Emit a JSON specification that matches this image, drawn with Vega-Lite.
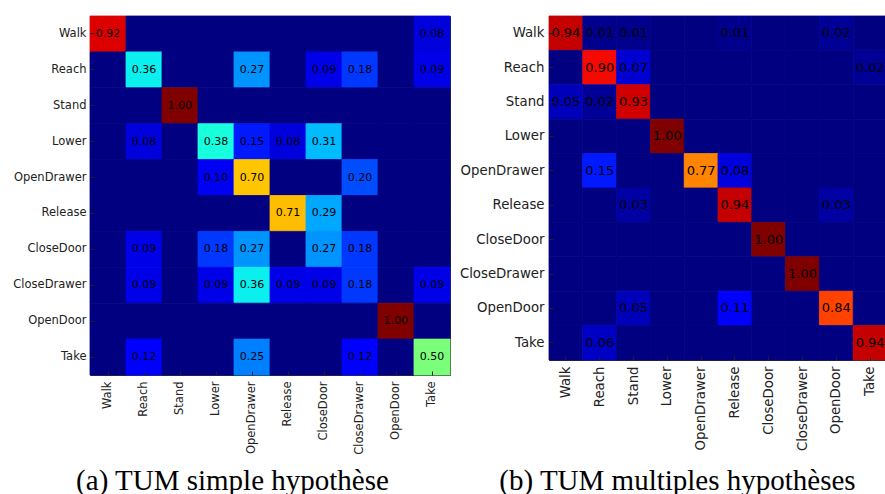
{
  "$schema": "https://vega.github.io/schema/vega-lite/v6.json",
  "padding": {"left": 12, "top": 15, "right": 0, "bottom": 0},
  "background": "white",
  "spacing": 7,
  "datasets": {
    "a": [
      {"r":"Walk","c":"Walk","v":0.92},{"r":"Walk","c":"Reach","v":0},{"r":"Walk","c":"Stand","v":0},{"r":"Walk","c":"Lower","v":0},{"r":"Walk","c":"OpenDrawer","v":0},{"r":"Walk","c":"Release","v":0},{"r":"Walk","c":"CloseDoor","v":0},{"r":"Walk","c":"CloseDrawer","v":0},{"r":"Walk","c":"OpenDoor","v":0},{"r":"Walk","c":"Take","v":0.08},
      {"r":"Reach","c":"Walk","v":0},{"r":"Reach","c":"Reach","v":0.36},{"r":"Reach","c":"Stand","v":0},{"r":"Reach","c":"Lower","v":0},{"r":"Reach","c":"OpenDrawer","v":0.27},{"r":"Reach","c":"Release","v":0},{"r":"Reach","c":"CloseDoor","v":0.09},{"r":"Reach","c":"CloseDrawer","v":0.18},{"r":"Reach","c":"OpenDoor","v":0},{"r":"Reach","c":"Take","v":0.09},
      {"r":"Stand","c":"Walk","v":0},{"r":"Stand","c":"Reach","v":0},{"r":"Stand","c":"Stand","v":1.0},{"r":"Stand","c":"Lower","v":0},{"r":"Stand","c":"OpenDrawer","v":0},{"r":"Stand","c":"Release","v":0},{"r":"Stand","c":"CloseDoor","v":0},{"r":"Stand","c":"CloseDrawer","v":0},{"r":"Stand","c":"OpenDoor","v":0},{"r":"Stand","c":"Take","v":0},
      {"r":"Lower","c":"Walk","v":0},{"r":"Lower","c":"Reach","v":0.08},{"r":"Lower","c":"Stand","v":0},{"r":"Lower","c":"Lower","v":0.38},{"r":"Lower","c":"OpenDrawer","v":0.15},{"r":"Lower","c":"Release","v":0.08},{"r":"Lower","c":"CloseDoor","v":0.31},{"r":"Lower","c":"CloseDrawer","v":0},{"r":"Lower","c":"OpenDoor","v":0},{"r":"Lower","c":"Take","v":0},
      {"r":"OpenDrawer","c":"Walk","v":0},{"r":"OpenDrawer","c":"Reach","v":0},{"r":"OpenDrawer","c":"Stand","v":0},{"r":"OpenDrawer","c":"Lower","v":0.10},{"r":"OpenDrawer","c":"OpenDrawer","v":0.70},{"r":"OpenDrawer","c":"Release","v":0},{"r":"OpenDrawer","c":"CloseDoor","v":0},{"r":"OpenDrawer","c":"CloseDrawer","v":0.20},{"r":"OpenDrawer","c":"OpenDoor","v":0},{"r":"OpenDrawer","c":"Take","v":0},
      {"r":"Release","c":"Walk","v":0},{"r":"Release","c":"Reach","v":0},{"r":"Release","c":"Stand","v":0},{"r":"Release","c":"Lower","v":0},{"r":"Release","c":"OpenDrawer","v":0},{"r":"Release","c":"Release","v":0.71},{"r":"Release","c":"CloseDoor","v":0.29},{"r":"Release","c":"CloseDrawer","v":0},{"r":"Release","c":"OpenDoor","v":0},{"r":"Release","c":"Take","v":0},
      {"r":"CloseDoor","c":"Walk","v":0},{"r":"CloseDoor","c":"Reach","v":0.09},{"r":"CloseDoor","c":"Stand","v":0},{"r":"CloseDoor","c":"Lower","v":0.18},{"r":"CloseDoor","c":"OpenDrawer","v":0.27},{"r":"CloseDoor","c":"Release","v":0},{"r":"CloseDoor","c":"CloseDoor","v":0.27},{"r":"CloseDoor","c":"CloseDrawer","v":0.18},{"r":"CloseDoor","c":"OpenDoor","v":0},{"r":"CloseDoor","c":"Take","v":0},
      {"r":"CloseDrawer","c":"Walk","v":0},{"r":"CloseDrawer","c":"Reach","v":0.09},{"r":"CloseDrawer","c":"Stand","v":0},{"r":"CloseDrawer","c":"Lower","v":0.09},{"r":"CloseDrawer","c":"OpenDrawer","v":0.36},{"r":"CloseDrawer","c":"Release","v":0.09},{"r":"CloseDrawer","c":"CloseDoor","v":0.09},{"r":"CloseDrawer","c":"CloseDrawer","v":0.18},{"r":"CloseDrawer","c":"OpenDoor","v":0},{"r":"CloseDrawer","c":"Take","v":0.09},
      {"r":"OpenDoor","c":"Walk","v":0},{"r":"OpenDoor","c":"Reach","v":0},{"r":"OpenDoor","c":"Stand","v":0},{"r":"OpenDoor","c":"Lower","v":0},{"r":"OpenDoor","c":"OpenDrawer","v":0},{"r":"OpenDoor","c":"Release","v":0},{"r":"OpenDoor","c":"CloseDoor","v":0},{"r":"OpenDoor","c":"CloseDrawer","v":0},{"r":"OpenDoor","c":"OpenDoor","v":1.0},{"r":"OpenDoor","c":"Take","v":0},
      {"r":"Take","c":"Walk","v":0},{"r":"Take","c":"Reach","v":0.12},{"r":"Take","c":"Stand","v":0},{"r":"Take","c":"Lower","v":0},{"r":"Take","c":"OpenDrawer","v":0.25},{"r":"Take","c":"Release","v":0},{"r":"Take","c":"CloseDoor","v":0},{"r":"Take","c":"CloseDrawer","v":0.12},{"r":"Take","c":"OpenDoor","v":0},{"r":"Take","c":"Take","v":0.50}
    ],
    "b": [
      {"r":"Walk","c":"Walk","v":0.94},{"r":"Walk","c":"Reach","v":0.01},{"r":"Walk","c":"Stand","v":0.01},{"r":"Walk","c":"Lower","v":0},{"r":"Walk","c":"OpenDrawer","v":0},{"r":"Walk","c":"Release","v":0.01},{"r":"Walk","c":"CloseDoor","v":0},{"r":"Walk","c":"CloseDrawer","v":0},{"r":"Walk","c":"OpenDoor","v":0.02},{"r":"Walk","c":"Take","v":0},
      {"r":"Reach","c":"Walk","v":0},{"r":"Reach","c":"Reach","v":0.90},{"r":"Reach","c":"Stand","v":0.07},{"r":"Reach","c":"Lower","v":0},{"r":"Reach","c":"OpenDrawer","v":0},{"r":"Reach","c":"Release","v":0},{"r":"Reach","c":"CloseDoor","v":0},{"r":"Reach","c":"CloseDrawer","v":0},{"r":"Reach","c":"OpenDoor","v":0},{"r":"Reach","c":"Take","v":0.02},
      {"r":"Stand","c":"Walk","v":0.05},{"r":"Stand","c":"Reach","v":0.02},{"r":"Stand","c":"Stand","v":0.93},{"r":"Stand","c":"Lower","v":0},{"r":"Stand","c":"OpenDrawer","v":0},{"r":"Stand","c":"Release","v":0},{"r":"Stand","c":"CloseDoor","v":0},{"r":"Stand","c":"CloseDrawer","v":0},{"r":"Stand","c":"OpenDoor","v":0},{"r":"Stand","c":"Take","v":0},
      {"r":"Lower","c":"Walk","v":0},{"r":"Lower","c":"Reach","v":0},{"r":"Lower","c":"Stand","v":0},{"r":"Lower","c":"Lower","v":1.0},{"r":"Lower","c":"OpenDrawer","v":0},{"r":"Lower","c":"Release","v":0},{"r":"Lower","c":"CloseDoor","v":0},{"r":"Lower","c":"CloseDrawer","v":0},{"r":"Lower","c":"OpenDoor","v":0},{"r":"Lower","c":"Take","v":0},
      {"r":"OpenDrawer","c":"Walk","v":0},{"r":"OpenDrawer","c":"Reach","v":0.15},{"r":"OpenDrawer","c":"Stand","v":0},{"r":"OpenDrawer","c":"Lower","v":0},{"r":"OpenDrawer","c":"OpenDrawer","v":0.77},{"r":"OpenDrawer","c":"Release","v":0.08},{"r":"OpenDrawer","c":"CloseDoor","v":0},{"r":"OpenDrawer","c":"CloseDrawer","v":0},{"r":"OpenDrawer","c":"OpenDoor","v":0},{"r":"OpenDrawer","c":"Take","v":0},
      {"r":"Release","c":"Walk","v":0},{"r":"Release","c":"Reach","v":0},{"r":"Release","c":"Stand","v":0.03},{"r":"Release","c":"Lower","v":0},{"r":"Release","c":"OpenDrawer","v":0},{"r":"Release","c":"Release","v":0.94},{"r":"Release","c":"CloseDoor","v":0},{"r":"Release","c":"CloseDrawer","v":0},{"r":"Release","c":"OpenDoor","v":0.03},{"r":"Release","c":"Take","v":0},
      {"r":"CloseDoor","c":"Walk","v":0},{"r":"CloseDoor","c":"Reach","v":0},{"r":"CloseDoor","c":"Stand","v":0},{"r":"CloseDoor","c":"Lower","v":0},{"r":"CloseDoor","c":"OpenDrawer","v":0},{"r":"CloseDoor","c":"Release","v":0},{"r":"CloseDoor","c":"CloseDoor","v":1.0},{"r":"CloseDoor","c":"CloseDrawer","v":0},{"r":"CloseDoor","c":"OpenDoor","v":0},{"r":"CloseDoor","c":"Take","v":0},
      {"r":"CloseDrawer","c":"Walk","v":0},{"r":"CloseDrawer","c":"Reach","v":0},{"r":"CloseDrawer","c":"Stand","v":0},{"r":"CloseDrawer","c":"Lower","v":0},{"r":"CloseDrawer","c":"OpenDrawer","v":0},{"r":"CloseDrawer","c":"Release","v":0},{"r":"CloseDrawer","c":"CloseDoor","v":0},{"r":"CloseDrawer","c":"CloseDrawer","v":1.0},{"r":"CloseDrawer","c":"OpenDoor","v":0},{"r":"CloseDrawer","c":"Take","v":0},
      {"r":"OpenDoor","c":"Walk","v":0},{"r":"OpenDoor","c":"Reach","v":0},{"r":"OpenDoor","c":"Stand","v":0.05},{"r":"OpenDoor","c":"Lower","v":0},{"r":"OpenDoor","c":"OpenDrawer","v":0},{"r":"OpenDoor","c":"Release","v":0.11},{"r":"OpenDoor","c":"CloseDoor","v":0},{"r":"OpenDoor","c":"CloseDrawer","v":0},{"r":"OpenDoor","c":"OpenDoor","v":0.84},{"r":"OpenDoor","c":"Take","v":0},
      {"r":"Take","c":"Walk","v":0},{"r":"Take","c":"Reach","v":0.06},{"r":"Take","c":"Stand","v":0},{"r":"Take","c":"Lower","v":0},{"r":"Take","c":"OpenDrawer","v":0},{"r":"Take","c":"Release","v":0},{"r":"Take","c":"CloseDoor","v":0},{"r":"Take","c":"CloseDrawer","v":0},{"r":"Take","c":"OpenDoor","v":0},{"r":"Take","c":"Take","v":0.94}
    ]
  },
  "hconcat": [
    {
      "width": 360,
      "height": 359,
      "data": {"name": "a"},
      "layer": [
        {
          "mark": {"type": "rect", "strokeWidth": 0.8},
          "encoding": {
            "x": {"field": "c", "type": "nominal",
              "scale": {"domain": ["Walk","Reach","Stand","Lower","OpenDrawer","Release","CloseDoor","CloseDrawer","OpenDoor","Take"], "paddingInner": 0, "paddingOuter": 0},
              "axis": {"orient": "bottom", "labelAngle": -90, "labelFontSize": 11.5, "labelPadding": 10,
                "title": "(a) TUM simple hypothèse", "titleFont": "Liberation Serif", "titleFontSize": 29, "titleFontWeight": "normal", "titleColor": "#000",
                "titleX": 142, "titleY": 114, "titleAlign": "center", "titleBaseline": "alphabetic"}},
            "y": {"field": "r", "type": "nominal",
              "scale": {"domain": ["Walk","Reach","Stand","Lower","OpenDrawer","Release","CloseDoor","CloseDrawer","OpenDoor","Take"], "paddingInner": 0, "paddingOuter": 0},
              "axis": {"orient": "left", "labelFontSize": 11.5, "labelPadding": 8, "title": null, "minExtent": 77, "maxExtent": 77}},
            "color": {"field": "v", "type": "quantitative", "legend": null,
              "scale": {"domain": [0, 0.11, 0.125, 0.34, 0.375, 0.64, 0.66, 0.89, 0.91, 1],
                "range": ["#000080", "#0000ff", "#0000ff", "#00dbff", "#14ffe2", "#eeff08", "#ffec00", "#ff1300", "#e80000", "#800000"],
                "interpolate": "rgb"}},
            "stroke": {"field": "v", "type": "quantitative", "legend": null,
              "scale": {"domain": [0, 0.11, 0.125, 0.34, 0.375, 0.64, 0.66, 0.89, 0.91, 1],
                "range": ["#000080", "#0000ff", "#0000ff", "#00dbff", "#14ffe2", "#eeff08", "#ffec00", "#ff1300", "#e80000", "#800000"],
                "interpolate": "rgb"}}
          }
        },
        {
          "transform": [{"filter": "datum.v > 0"}],
          "mark": {"type": "text", "fontSize": 11, "color": "#000", "font": "DejaVu Sans"},
          "encoding": {
            "x": {"field": "c", "type": "nominal", "axis": {"orient": "top", "labels": false, "title": null, "minExtent": 0, "maxExtent": 0}},
            "y": {"field": "r", "type": "nominal", "axis": {"orient": "right", "labels": false, "title": null, "minExtent": 0, "maxExtent": 0}},
            "text": {"field": "v", "type": "quantitative", "format": ".2f"}
          }
        }
      ],
      "resolve": {"axis": {"x": "independent", "y": "independent"}}
    },
    {
      "width": 338,
      "height": 344,
      "data": {"name": "b"},
      "layer": [
        {
          "mark": {"type": "rect", "strokeWidth": 0.8},
          "encoding": {
            "x": {"field": "c", "type": "nominal",
              "scale": {"domain": ["Walk","Reach","Stand","Lower","OpenDrawer","Release","CloseDoor","CloseDrawer","OpenDoor","Take"], "paddingInner": 0, "paddingOuter": 0},
              "axis": {"orient": "bottom", "labelAngle": -90, "labelFontSize": 13.3, "labelPadding": 10,
                "title": "(b) TUM multiples hypothèses", "titleFont": "Liberation Serif", "titleFontSize": 29, "titleFontWeight": "normal", "titleColor": "#000",
                "titleX": 128, "titleY": 129, "titleAlign": "center", "titleBaseline": "alphabetic"}},
            "y": {"field": "r", "type": "nominal",
              "scale": {"domain": ["Walk","Reach","Stand","Lower","OpenDrawer","Release","CloseDoor","CloseDrawer","OpenDoor","Take"], "paddingInner": 0, "paddingOuter": 0},
              "axis": {"orient": "left", "labelFontSize": 13.3, "labelPadding": 9, "title": null, "minExtent": 90, "maxExtent": 90}},
            "color": {"field": "v", "type": "quantitative", "legend": null,
              "scale": {"domain": [0, 0.11, 0.125, 0.34, 0.375, 0.64, 0.66, 0.89, 0.91, 1],
                "range": ["#000080", "#0000ff", "#0000ff", "#00dbff", "#14ffe2", "#eeff08", "#ffec00", "#ff1300", "#e80000", "#800000"],
                "interpolate": "rgb"}},
            "stroke": {"field": "v", "type": "quantitative", "legend": null,
              "scale": {"domain": [0, 0.11, 0.125, 0.34, 0.375, 0.64, 0.66, 0.89, 0.91, 1],
                "range": ["#000080", "#0000ff", "#0000ff", "#00dbff", "#14ffe2", "#eeff08", "#ffec00", "#ff1300", "#e80000", "#800000"],
                "interpolate": "rgb"}}
          }
        },
        {
          "transform": [{"filter": "datum.v > 0"}],
          "mark": {"type": "text", "fontSize": 13, "color": "#000", "font": "DejaVu Sans"},
          "encoding": {
            "x": {"field": "c", "type": "nominal", "axis": {"orient": "top", "labels": false, "title": null, "minExtent": 0, "maxExtent": 0}},
            "y": {"field": "r", "type": "nominal", "axis": {"orient": "right", "labels": false, "title": null, "minExtent": 0, "maxExtent": 0}},
            "text": {"field": "v", "type": "quantitative", "format": ".2f"}
          }
        }
      ],
      "resolve": {"axis": {"x": "independent", "y": "independent"}}
    }
  ],
  "config": {
    "view": {"stroke": "#333", "strokeWidth": 1},
    "axis": {"grid": false, "domain": false, "labelColor": "#222", "labelFont": "DejaVu Sans", "tickColor": "#222", "tickSize": -4, "tickWidth": 1}
  }
}
